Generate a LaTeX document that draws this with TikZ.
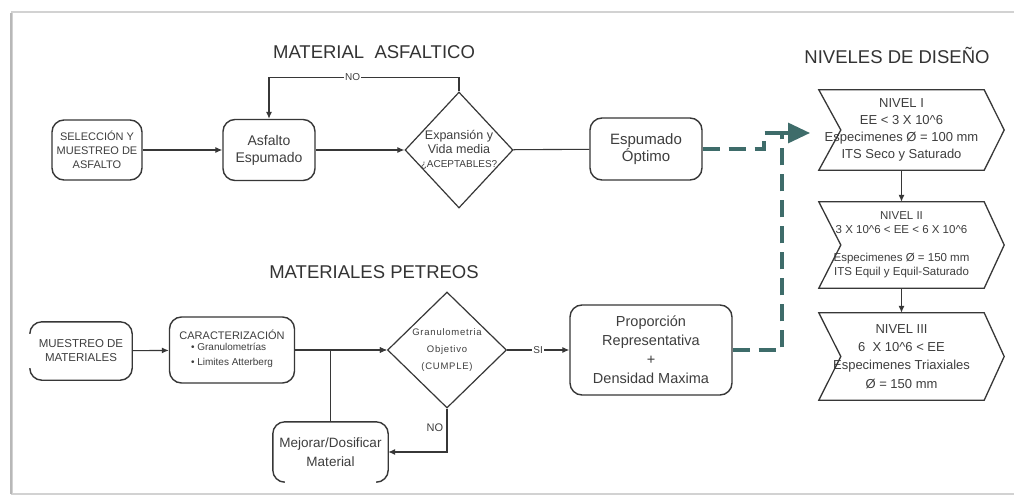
\documentclass[tikz,border=0pt]{standalone}
\usepackage{fontspec}
\setmainfont{Liberation Sans}
\usetikzlibrary{shapes.geometric,arrows.meta,calc}
\definecolor{linec}{RGB}{55,55,55}
\definecolor{textc}{RGB}{62,62,62}
\definecolor{tealc}{RGB}{62,108,106}
\definecolor{framec}{RGB}{210,210,210}
\begin{document}
\begin{tikzpicture}[x=1pt,y=-1pt,
  box/.style={draw=linec,line width=1.4pt,rounded corners=12pt,align=center,text=textc,inner sep=1pt},
  openbox/.style={align=center,text=textc,inner sep=1pt},
  openline/.style={draw=linec,line width=1.4pt,rounded corners=12pt},
  dia/.style={diamond,draw=linec,line width=1.2pt,inner sep=0pt},
  diatext/.style={align=center,text=textc,inner sep=0pt},
  title/.style={font=\fontsize{18.5}{20}\selectfont,text=black!80},
  flow/.style={draw=linec,line width=1.1pt,-{Latex[length=7pt,width=6pt]}},
  plain/.style={draw=linec,line width=1.1pt},
  lbl/.style={fill=white,inner sep=1pt,text=textc,font=\fontsize{10}{11}\selectfont},
  tealdash/.style={draw=tealc,line width=3.2pt,dash pattern=on 17pt off 9pt},
  nivel/.style={align=center,text=textc,inner sep=0pt,minimum width=165pt},
  nivelshape/.style={draw=linec,line width=1.3pt},
]
\useasboundingbox (0,0) rectangle (1014,500);
\fill[white] (0,0) rectangle (1014,500);
\draw[framec,line width=1.2pt] (1016,12) -- (12,12) -- (12,494) -- (1016,494);
\draw[black!28,line width=2.5pt] (11,13) -- (11,494);

% titles
\node[title] (t1) at (374,52) {MATERIAL\ \ ASFALTICO};
\node[title] (t2) at (374,272) {MATERIALES PETREOS};
\node[title] (t3) at (897,55) {NIVELES DE DISEÑO};

% top row
\node[box,minimum width=90pt,minimum height=60pt,font=\fontsize{11}{14}\selectfont] (sel) at (97,150) {SELECCIÓN Y\\MUESTREO DE\\ASFALTO};
\node[box,minimum width=92pt,minimum height=61pt,font=\fontsize{14}{17}\selectfont] (asf) at (269,150) {Asfalto\\Espumado};
\node[dia,minimum width=108pt,minimum height=116pt] (d1) at (459,150) {};
\node[diatext,font=\fontsize{12.5}{14}\selectfont] (d1t) at (d1) {Expansión y\\Vida media\\{\fontsize{10}{14}\selectfont ¿ACEPTABLES?}};
\node[box,minimum width=112pt,minimum height=62pt,font=\fontsize{15}{17}\selectfont] (esp) at (646,149) {Espumado\\Óptimo};

\draw[flow] (sel) -- (asf);
\draw[flow] (asf) -- (d1);
\draw[flow] (d1.north) -- ++(0,-14) -| node[lbl,pos=0.28] {NO} (asf.north);
\draw[plain] (d1) -- (esp);

% bottom row
\node[openbox,minimum width=102pt,minimum height=58pt,font=\fontsize{11.5}{14}\selectfont] (mue) at (81,351) {MUESTREO DE\\MATERIALES};
\draw[openline] ($(mue.north west)+(0,12)$) -- (mue.north west) -- (mue.north east) -- (mue.south east) -- (mue.south west) -- ($(mue.south west)+(0,-12)$);

\node[box,minimum width=125pt,minimum height=66pt] (car) at (232,350) {{\fontsize{11}{13}\selectfont CARACTERIZACIÓN}\\[-1pt]{\fontsize{10}{15}\selectfont\begin{tabular}{@{}l@{}}• Granulometrías\\• Limites Atterberg\end{tabular}}};

\node[dia,minimum width=119pt,minimum height=116pt] (d2) at (447,350) {};
\node[diatext,font=\fontsize{9.5}{17}\selectfont\addfontfeature{LetterSpace=8}] (d2t) at (d2) {Granulometria\\Objetivo\\(CUMPLE)};

\node[box,minimum width=162pt,minimum height=90pt,font=\fontsize{14.5}{19}\selectfont] (pro) at (651,350) {Proporción\\Representativa\\+\\Densidad Maxima};

\node[openbox,minimum width=115pt,minimum height=60pt,font=\fontsize{13.5}{19}\selectfont] (mej) at (330.5,452) {Mejorar/Dosificar\\Material};
\draw[openline] ($(mej.south west)+(12,0)$) -- (mej.south west) -- (mej.north west) -- (mej.north east) -- (mej.south east) -- ($(mej.south east)+(-12,0)$);

\draw[flow] (mue) -- (car);
\draw[flow] (car) -- (d2);
\draw[flow] (mej.north) |- (d2.west);
\draw[flow] (d2.south) |- node[pos=0.22,left,text=textc,font=\fontsize{11}{12}\selectfont] {NO} (mej.east);
\draw[flow] (d2) -- node[lbl] {SI} (pro);

% design levels
\node[nivel,minimum height=80pt,font=\fontsize{13}{17}\selectfont] (n1) at (901.5,130) {NIVEL I\\EE < 3 X 10\textasciicircum 6\\Especimenes Ø = 100 mm\\ITS Seco y Saturado};
\draw[nivelshape] (n1.north west) -- (n1.north east) -- ($(n1.east)+(20,0)$) -- (n1.south east) -- (n1.south west) -- ($(n1.west)+(22,0)$) -- cycle;

\node[nivel,minimum height=86pt,font=\fontsize{11.5}{14}\selectfont] (n2) at (901.5,245) {NIVEL II\\3 X 10\textasciicircum 6 < EE < 6 X 10\textasciicircum 6\\[14pt]Especimenes Ø = 150 mm\\ITS Equil y Equil-Saturado};
\draw[nivelshape] (n2.north west) -- (n2.north east) -- ($(n2.east)+(20,0)$) -- (n2.south east) -- (n2.south west) -- ($(n2.west)+(22,0)$) -- cycle;

\node[nivel,minimum height=87pt,font=\fontsize{13}{18.3}\selectfont] (n3) at (901.5,356.5) {NIVEL III\\6\ \ X 10\textasciicircum 6 < EE\\Especimenes Triaxiales\\Ø = 150 mm};
\draw[nivelshape] (n3.north west) -- (n3.north east) -- ($(n3.east)+(20,0)$) -- (n3.south east) -- (n3.south west) -- ($(n3.west)+(22,0)$) -- cycle;

\draw[flow] (n1) -- (n2);
\draw[flow] (n2) -- (n3);

% dashed teal connectors
\coordinate (tp) at (782,133);
\coordinate (tip) at (810,133);
\draw[tealdash] (esp.east) -- (764,149) -- (764,133) -- (tp);
\draw[tealdash] (pro.east) -| (tp);
\draw[tealc,line width=3.2pt,-{Triangle[length=22pt,width=20pt]}] (tp) -- (tip);
\end{tikzpicture}
\end{document}
